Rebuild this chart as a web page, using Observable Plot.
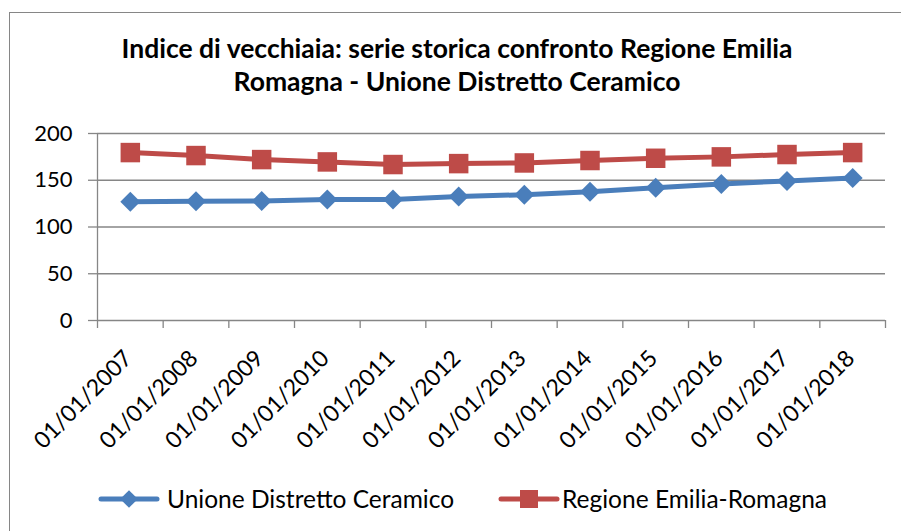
<!DOCTYPE html>
<html>
<head>
<meta charset="utf-8">
<script src="https://cdn.jsdelivr.net/npm/d3@7"></script>
<script src="https://cdn.jsdelivr.net/npm/@observablehq/plot@0.6"></script>
<style>
  html, body { margin: 0; padding: 0; background: #fff; }
  body { width: 901px; height: 531px; overflow: hidden; position: relative; font-family: Lato, "Open Sans", sans-serif; }
  #frame { position: absolute; left: 9px; top: 12px; width: 1000px; height: 1000px; border: 1.3px solid #868686; box-sizing: border-box; }
  #title { position: absolute; left: 0; width: 914px; top: 32px; text-align: center; font-weight: bold; font-size: 26.5px; line-height: 33px; color: #000; }
  #chart { position: absolute; left: 0; top: 110px; }
  #legend { position: absolute; left: 0; top: 470px; }
</style>
</head>
<body>
<div id="frame"></div>
<div id="title">Indice di vecchiaia: serie storica confronto Regione Emilia<br>Romagna - Unione Distretto Ceramico</div>
<div id="chart"></div>
<div id="legend"></div>
<script>
const dates = ["01/01/2007","01/01/2008","01/01/2009","01/01/2010","01/01/2011","01/01/2012","01/01/2013","01/01/2014","01/01/2015","01/01/2016","01/01/2017","01/01/2018"];
const unione = [127.1,127.5,127.8,129.3,129.3,132.5,134.6,137.8,142.1,146.0,149.3,152.5];
const regione = [179.6,176.4,172.1,169.6,166.8,167.8,168.5,171.1,173.5,175.0,177.5,179.6];
const yTicks = [0,50,100,150,200];
const seriesNames = ["Unione Distretto Ceramico","Regione Emilia-Romagna"];

const blue = "#4A7EBB", red = "#BE4B48", gray = "#868686";
const xi = (d, i) => i + 0.5;
const centers = dates.map((d, i) => i + 0.5);
const bounds = d3.range(dates.length + 1);

const chart = Plot.plot({
  width: 901,
  height: 350,
  marginLeft: 97,
  marginRight: 16,
  marginTop: 23,
  marginBottom: 140,
  style: {fontFamily: "Lato, 'Open Sans', sans-serif", background: "transparent"},
  x: {type: "linear", domain: [0, dates.length]},
  y: {domain: [0, 200]},
  marks: [
    Plot.ruleY(yTicks, {stroke: gray, strokeWidth: 1.3}),
    Plot.ruleX([0], {y1: 0, y2: 200, stroke: gray, strokeWidth: 1.3}),
    Plot.axisY({ticks: yTicks, tickSize: 9, tickPadding: 16, fontSize: 22, stroke: gray, fill: "black", label: null, strokeWidth: 1.3}),
    Plot.axisX({ticks: bounds, tickSize: 8, tickFormat: () => "", stroke: gray, label: null, strokeWidth: 1.3}),
    Plot.axisX({ticks: centers, tickSize: 0, tickPadding: 0, tickRotate: -45, tickFormat: v => dates[Math.round(v - 0.5)], fontSize: 23, fill: "black", label: null, textAnchor: "end", lineAnchor: "middle", dx: -2, dy: 34}),
    Plot.line(regione, {x: xi, y: d => d, stroke: red, strokeWidth: 5}),
    Plot.dot(regione, {x: xi, y: d => d, symbol: "square", r: 11, fill: red}),
    Plot.line(unione, {x: xi, y: d => d, stroke: blue, strokeWidth: 5}),
    Plot.dot(unione, {x: xi, y: d => d, symbol: "diamond2", r: 9, fill: blue})
  ]
});
document.getElementById("chart").append(chart);

// legend
const leg = d3.select("#legend").append("svg").attr("width", 901).attr("height", 60)
  .style("font-family", "Lato, 'Open Sans', sans-serif");
const items = [
  {name: seriesNames[0], color: blue, x0: 101, x1: 157, tx: 167, sym: "diamond"},
  {name: seriesNames[1], color: red, x0: 501, x1: 557, tx: 562, sym: "square"}
];
const cy = 29;
items.forEach(it => {
  leg.append("line").attr("x1", it.x0).attr("x2", it.x1).attr("y1", cy).attr("y2", cy)
    .attr("stroke", it.color).attr("stroke-width", 5).attr("stroke-linecap", "round");
  const cx = (it.x0 + it.x1) / 2;
  if (it.sym === "diamond") {
    leg.append("path").attr("d", d3.symbol(d3.symbolDiamond2, 200)()).attr("transform", `translate(${cx},${cy})`).attr("fill", it.color);
  } else {
    leg.append("rect").attr("x", cx - 9).attr("y", cy - 9).attr("width", 18).attr("height", 18).attr("fill", it.color);
  }
  leg.append("text").attr("x", it.tx).attr("y", cy).attr("dy", "0.35em").attr("font-size", 24.5).attr("fill", "#000").text(it.name);
});
</script>
</body>
</html>
